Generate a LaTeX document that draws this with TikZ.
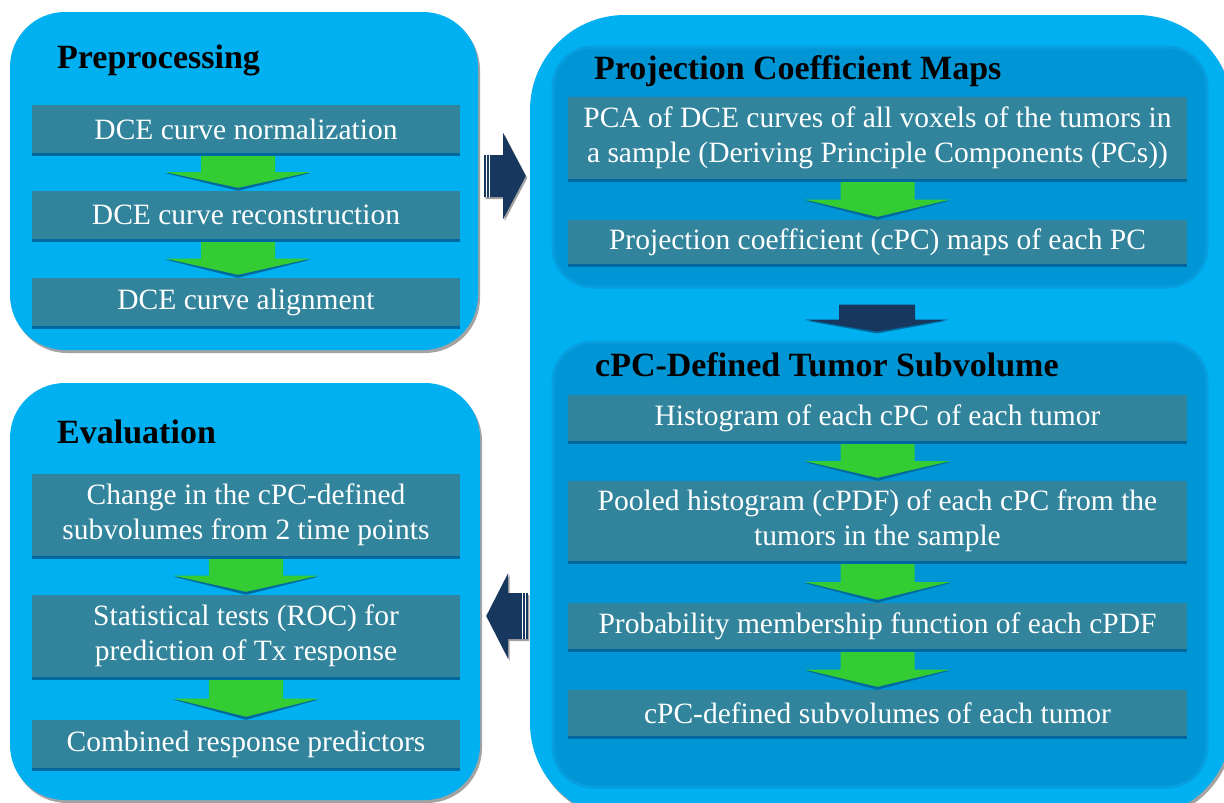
\documentclass[tikz,border=0pt]{standalone}
\usepackage{fontspec}
\setmainfont{Liberation Serif}
\usetikzlibrary{calc,shadows}

\definecolor{panelblue}{RGB}{0,176,240}
\definecolor{innerblue}{RGB}{0,150,214}
\definecolor{innerrim}{RGB}{6,158,222}
\definecolor{boxteal}{RGB}{49,132,155}
\definecolor{boxedge}{RGB}{0,104,160}
\definecolor{flowgreen}{RGB}{51,204,51}
\definecolor{greenshade}{RGB}{0,106,158}
\definecolor{navy}{RGB}{23,55,94}
\definecolor{panelshadow}{RGB}{140,140,140}

% green block arrow between two stacked boxes: #1 upper box, #2 lower box, #3 x offset
\newcommand\flowarrow[3]{%
  \coordinate (fa-top) at ($(#1.south)+(#3,3)$);
  \coordinate (fa-mid) at ($(#1.south)!0.5!(#2.north)+(#3,0)$);
  \coordinate (fa-tip) at ($(#2.north -| fa-top)+(0,-3)$);
  \fill[greenshade] ($(fa-mid)+(-73,1)$) -- ($(fa-tip)+(0,3)$) -- ($(fa-mid)+(73,1)$) -- cycle;
  \fill[flowgreen] ($(fa-top)+(-37,0)$) -- ($(fa-top)+(37,0)$) -- ($(fa-mid)+(37,0)$)
    -- ($(fa-mid)+(73,0)$) -- (fa-tip) -- ($(fa-mid)+(-73,0)$) -- ($(fa-mid)+(-37,0)$) -- cycle;
}

\tikzset{
  panel/.style={fill=panelblue, inner sep=0pt,
    drop shadow={shadow xshift=2pt, shadow yshift=-3pt, fill=panelshadow, opacity=0.8}},
  subpanel/.style={fill=innerblue, draw=innerrim, line width=3pt, inner sep=0pt, rounded corners=40pt},
  stepbox/.style={fill=boxteal, text=white, inner sep=0pt, align=center,
    font=\fontsize{29.5}{35}\selectfont},
  title/.style={anchor=base west, inner sep=0pt, font=\bfseries\fontsize{34}{40}\selectfont},
  edgeline/.style={draw=boxedge, line width=3pt},
  leftbox/.style={stepbox, minimum width=428pt},
  rightbox/.style={stepbox, minimum width=619pt},
  navyshape/.style={fill=navy,
    drop shadow={shadow xshift=1.5pt, shadow yshift=-2pt, fill=panelshadow, opacity=0.8}},
}

\begin{document}
\begin{tikzpicture}[x=1pt,y=-1pt]
\useasboundingbox (0,0) rectangle (1224,803);
\clip (0,0) rectangle (1224,803);
\fill[white] (0,0) rectangle (1224,803);

% ---------- outer panels ----------
\node[panel, rounded corners=55pt, minimum width=468pt, minimum height=338pt] (pre) at (244,181) {};
\node[panel, rounded corners=55pt, minimum width=470pt, minimum height=417pt] (eval) at (245,591.5) {};
\node[panel, rounded corners=95pt, minimum width=702pt, minimum height=803pt] (outer) at (881,416.5) {};

% ---------- inner panels of the right column ----------
\node[subpanel, minimum width=654pt, minimum height=240pt] (pcm) at (880,167) {};
\node[subpanel, minimum width=654pt, minimum height=445pt] (sub) at (880,564.5) {};

% ---------- titles ----------
\node[title] (tpre) at (57,68) {Preprocessing};
\node[title] (teval) at (57,443) {Evaluation};
\node[title] (tpcm) at (594,79) {Projection Coefficient Maps};
\node[title] (tsub) at (595,376) {cPC-Defined Tumor Subvolume};

% ---------- preprocessing steps ----------
\node[leftbox, minimum height=48pt] (p1) at (246,129) {DCE curve normalization};
\node[leftbox, minimum height=48pt] (p2) at (246,215) {DCE curve reconstruction};
\node[leftbox, minimum height=48pt] (p3) at (246,302) {DCE curve alignment};

% ---------- evaluation steps ----------
\node[leftbox, minimum height=82pt] (e1) at (246,515) {Change in the cPC-defined\\subvolumes from 2 time points};
\node[leftbox, minimum height=82pt] (e2) at (246,636) {Statistical tests (ROC) for\\prediction of Tx response};
\node[leftbox, minimum height=48pt] (e3) at (246,744) {Combined response predictors};

% ---------- projection coefficient maps ----------
\node[rightbox, minimum height=82pt] (m1) at (877.5,138) {PCA of DCE curves of all voxels of the tumors in\\a sample (Deriving Principle Components (PCs))};
\node[rightbox, minimum height=44pt] (m2) at (877.5,242) {Projection coefficient (cPC) maps of each PC};

% ---------- cPC-defined tumor subvolume ----------
\node[rightbox, minimum height=46pt] (s1) at (877.5,418) {Histogram of each cPC of each tumor};
\node[rightbox, minimum height=80pt] (s2) at (877.5,521) {Pooled histogram (cPDF) of each cPC from the\\tumors in the sample};
\node[rightbox, minimum height=46pt] (s3) at (877.5,626) {Probability membership function of each cPDF};
\node[rightbox, minimum height=46pt] (s4) at (877.5,713) {cPC-defined subvolumes of each tumor};

% darker lower rim of every step box
\foreach \b in {p1,p2,p3,e1,e2,e3,m1,m2,s1,s2,s3,s4}{
  \draw[edgeline] ([yshift=-1.5pt]\b.south west) -- ([yshift=-1.5pt]\b.south east);
}

% ---------- green flow arrows ----------
\flowarrow{p1}{p2}{-8}
\flowarrow{p2}{p3}{-8}
\flowarrow{e1}{e2}{0}
\flowarrow{e2}{e3}{0}
\flowarrow{m1}{m2}{0}
\flowarrow{s1}{s2}{0}
\flowarrow{s2}{s3}{0}
\flowarrow{s3}{s4}{0}

% ---------- navy arrow from the maps panel to the subvolume panel ----------
\coordinate (da) at ($(pcm.south)+(-3,16)$);
\coordinate (db) at ($(sub.north)+(-3,-9)$);
\fill[greenshade] ($(da)+(-72,16)$) -- ($(db)+(0,2)$) -- ($(da)+(71,16)$) -- cycle;
\fill[navy] ($(da)+(-38,0)$) -- ($(da)+(38,0)$) -- ($(da)+(38,15)$) -- ($(da)+(71,15)$)
  -- (db) -- ($(da)+(-72,15)$) -- ($(da)+(-38,15)$) -- cycle;

% ---------- navy arrow from preprocessing to the right column ----------
\coordinate (ra) at ($(pre.east)+(6,-5)$);
\coordinate (rb) at ($(outer.west |- ra)+(-4,0)$);
\fill[navyshape] ($(ra)+(0,-21)$) -- ($(ra)+(19,-21)$) -- ($(ra)+(19,-43)$) -- (rb)
  -- ($(ra)+(19,43)$) -- ($(ra)+(19,21)$) -- ($(ra)+(0,21)$) -- cycle;
\fill[white] ($(ra)+(2,-21)$) rectangle ($(ra)+(3,21)$);
\fill[white] ($(ra)+(5,-21)$) rectangle ($(ra)+(6,21)$);

% ---------- navy arrow from the right column to evaluation ----------
\coordinate (la) at ($(eval.east)+(6,24.5)$);
\coordinate (lb) at ($(outer.west |- la)+(-2,0)$);
\fill[navyshape] (la) -- ($(la)+(22,-43)$) -- ($(la)+(22,-23)$) -- ($(lb)+(0,-23)$)
  -- ($(lb)+(0,23)$) -- ($(la)+(22,23)$) -- ($(la)+(22,43)$) -- cycle;
\fill[white] ($(lb)+(-6,-23)$) rectangle ($(lb)+(-5,23)$);
\fill[white] ($(lb)+(-3,-23)$) rectangle ($(lb)+(-2,23)$);
\end{tikzpicture}
\end{document}
